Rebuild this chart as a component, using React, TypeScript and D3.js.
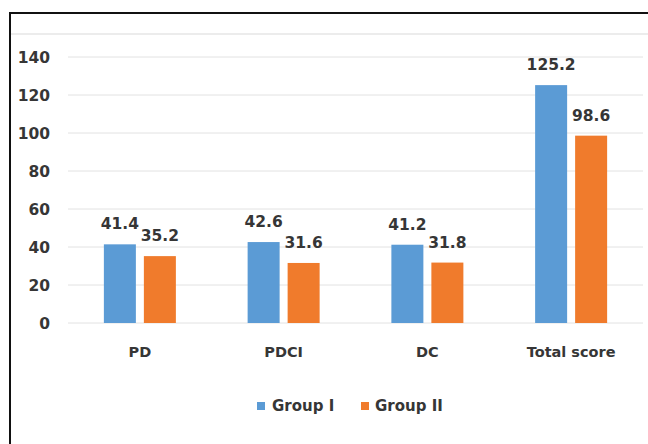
import React from "react";
import * as d3 from "d3";

const categories = ["PD", "PDCI", "DC", "Total score"];
const groups = ["Group I", "Group II"];
const groupI = [41.4, 42.6, 41.2, 125.2];
const groupII = [35.2, 31.6, 31.8, 98.6];
const yTicks = [0, 20, 40, 60, 80, 100, 120, 140];
const colors = ["#5B9BD5", "#F07B2C"];

const W = 648;
const H = 444;
const FONT = "'DejaVu Sans', sans-serif";
const TEXT = "#363636";

export default function App() {
  const x0 = d3.scaleBand<string>().domain(categories).range([68, 643]).padding(0);
  const y = d3.scaleLinear().domain([0, 140]).range([323, 57]);
  const series = [groupI, groupII];

  return (
    <svg
      width={W}
      height={H}
      style={{ position: "absolute", left: 0, top: 0, background: "#fff" }}
      fontFamily={FONT}
    >
      <rect x={0} y={0} width={W} height={H} fill="#fff" />
      {/* frame */}
      <line x1={10} y1={13} x2={W} y2={13} stroke="#111" strokeWidth={2} />
      <line x1={10} y1={12} x2={10} y2={H} stroke="#111" strokeWidth={2} />
      <line x1={11} y1={34} x2={W} y2={34} stroke="#ececec" strokeWidth={2} />

      {/* gridlines */}
      {yTicks.map((t) => (
        <line key={t} x1={68} x2={643} y1={y(t)} y2={y(t)} stroke="#e2e2e2" strokeWidth={1} />
      ))}
      {/* y tick labels */}
      {yTicks.map((t) => (
        <text
          key={"l" + t}
          x={50}
          y={y(t)}
          dy="0.36em"
          textAnchor="end"
          fontSize={15.5}
          fontWeight="bold"
          fill={TEXT}
        >
          {t}
        </text>
      ))}

      {/* bars */}
      {categories.map((c, i) => {
        const cx = (x0(c) as number) + x0.bandwidth() / 2;
        const x1 = d3.scaleBand<string>().domain(groups).range([cx - 36, cx + 36]).paddingInner(0.2);
        return (
          <g key={c}>
            {groups.map((g, j) => {
              const v = series[j][i];
              const bx = x1(g) as number;
              return (
                <g key={g}>
                  <rect x={bx} y={y(v)} width={x1.bandwidth()} height={y(0) - y(v)} fill={colors[j]} />
                  <text
                    x={bx + x1.bandwidth() / 2}
                    y={y(v) - 15}
                    textAnchor="middle"
                    fontSize={15.5}
                    fontWeight="bold"
                    fill={TEXT}
                  >
                    {v.toFixed(1)}
                  </text>
                </g>
              );
            })}
            <text x={cx} y={357} textAnchor="middle" fontSize={14.5} fontWeight="bold" fill={TEXT}>
              {c}
            </text>
          </g>
        );
      })}

      {/* legend */}
      <g>
        <rect x={257} y={402} width={8} height={8} fill={colors[0]} />
        <text x={272} y={411} fontSize={15} fontWeight="bold" fill={TEXT}>
          {groups[0]}
        </text>
        <rect x={361} y={402} width={8} height={8} fill={colors[1]} />
        <text x={375} y={411} fontSize={15} fontWeight="bold" fill={TEXT}>
          {groups[1]}
        </text>
      </g>
    </svg>
  );
}
